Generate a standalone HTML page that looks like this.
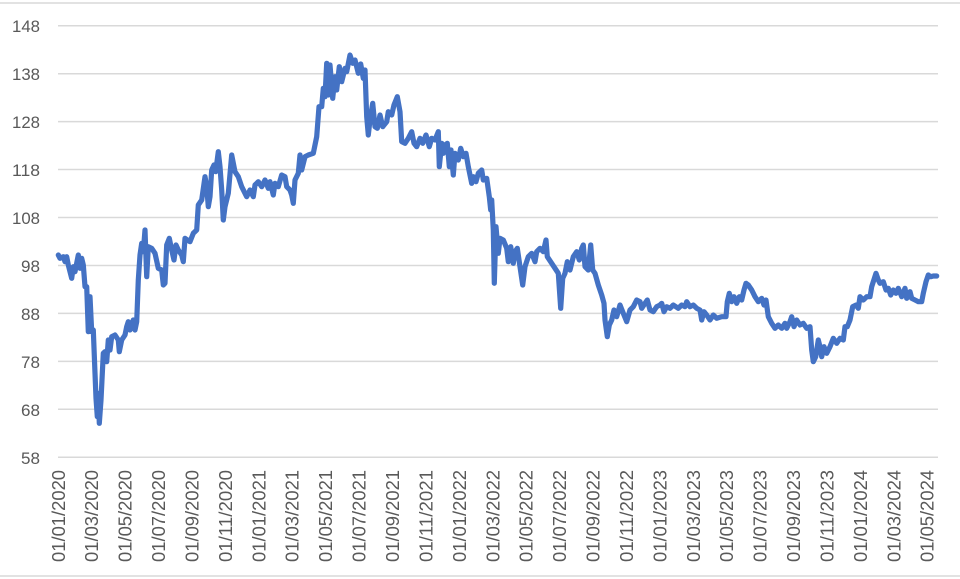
<!DOCTYPE html>
<html>
<head>
<meta charset="utf-8">
<style>
  html, body { margin: 0; padding: 0; background: #ffffff; }
  svg { display: block; }
  text { font-family: "Liberation Sans", Arial, sans-serif; fill: #595959; }
</style>
</head>
<body>
<svg width="960" height="579" viewBox="0 0 960 579" xmlns="http://www.w3.org/2000/svg">
  <rect x="0" y="0" width="960" height="579" fill="#ffffff"/>
  <line x1="0" y1="3" x2="960" y2="3" stroke="#d9d9d9" stroke-width="1.5"/>
  <line x1="0" y1="576" x2="960" y2="576" stroke="#d9d9d9" stroke-width="1.5"/>

  <g stroke="#d9d9d9" stroke-width="1.5">
    <line x1="58" y1="25.7" x2="938" y2="25.7"/>
    <line x1="58" y1="73.7" x2="938" y2="73.7"/>
    <line x1="58" y1="121.6" x2="938" y2="121.6"/>
    <line x1="58" y1="169.5" x2="938" y2="169.5"/>
    <line x1="58" y1="217.5" x2="938" y2="217.5"/>
    <line x1="58" y1="265.5" x2="938" y2="265.5"/>
    <line x1="58" y1="313.4" x2="938" y2="313.4"/>
    <line x1="58" y1="361.4" x2="938" y2="361.4"/>
    <line x1="58" y1="409.3" x2="938" y2="409.3"/>
    <line x1="58" y1="457.3" x2="938" y2="457.3"/>
  </g>

  <g font-size="17" text-anchor="end">
    <text x="40" y="32.2" textLength="28" lengthAdjust="spacingAndGlyphs">148</text>
    <text x="40" y="80.2" textLength="28" lengthAdjust="spacingAndGlyphs">138</text>
    <text x="40" y="128.1" textLength="28" lengthAdjust="spacingAndGlyphs">128</text>
    <text x="40" y="176.0" textLength="28" lengthAdjust="spacingAndGlyphs">118</text>
    <text x="40" y="224.0" textLength="28" lengthAdjust="spacingAndGlyphs">108</text>
    <text x="40" y="272.0" textLength="19" lengthAdjust="spacingAndGlyphs">98</text>
    <text x="40" y="319.9" textLength="19" lengthAdjust="spacingAndGlyphs">88</text>
    <text x="40" y="367.9" textLength="19" lengthAdjust="spacingAndGlyphs">78</text>
    <text x="40" y="415.8" textLength="19" lengthAdjust="spacingAndGlyphs">68</text>
    <text x="40" y="463.8" textLength="19" lengthAdjust="spacingAndGlyphs">58</text>
  </g>

  <g font-size="18" text-anchor="end">
    <text transform="translate(64.8,470) rotate(-90)" textLength="92" lengthAdjust="spacingAndGlyphs">01/01/2020</text>
    <text transform="translate(98.2,470) rotate(-90)" textLength="92" lengthAdjust="spacingAndGlyphs">01/03/2020</text>
    <text transform="translate(131.6,470) rotate(-90)" textLength="92" lengthAdjust="spacingAndGlyphs">01/05/2020</text>
    <text transform="translate(165.1,470) rotate(-90)" textLength="92" lengthAdjust="spacingAndGlyphs">01/07/2020</text>
    <text transform="translate(198.5,470) rotate(-90)" textLength="92" lengthAdjust="spacingAndGlyphs">01/09/2020</text>
    <text transform="translate(231.9,470) rotate(-90)" textLength="92" lengthAdjust="spacingAndGlyphs">01/11/2020</text>
    <text transform="translate(265.3,470) rotate(-90)" textLength="92" lengthAdjust="spacingAndGlyphs">01/01/2021</text>
    <text transform="translate(298.7,470) rotate(-90)" textLength="92" lengthAdjust="spacingAndGlyphs">01/03/2021</text>
    <text transform="translate(332.2,470) rotate(-90)" textLength="92" lengthAdjust="spacingAndGlyphs">01/05/2021</text>
    <text transform="translate(365.6,470) rotate(-90)" textLength="92" lengthAdjust="spacingAndGlyphs">01/07/2021</text>
    <text transform="translate(399.0,470) rotate(-90)" textLength="92" lengthAdjust="spacingAndGlyphs">01/09/2021</text>
    <text transform="translate(432.4,470) rotate(-90)" textLength="92" lengthAdjust="spacingAndGlyphs">01/11/2021</text>
    <text transform="translate(465.8,470) rotate(-90)" textLength="92" lengthAdjust="spacingAndGlyphs">01/01/2022</text>
    <text transform="translate(499.3,470) rotate(-90)" textLength="92" lengthAdjust="spacingAndGlyphs">01/03/2022</text>
    <text transform="translate(532.7,470) rotate(-90)" textLength="92" lengthAdjust="spacingAndGlyphs">01/05/2022</text>
    <text transform="translate(566.1,470) rotate(-90)" textLength="92" lengthAdjust="spacingAndGlyphs">01/07/2022</text>
    <text transform="translate(599.5,470) rotate(-90)" textLength="92" lengthAdjust="spacingAndGlyphs">01/09/2022</text>
    <text transform="translate(632.9,470) rotate(-90)" textLength="92" lengthAdjust="spacingAndGlyphs">01/11/2022</text>
    <text transform="translate(666.4,470) rotate(-90)" textLength="92" lengthAdjust="spacingAndGlyphs">01/01/2023</text>
    <text transform="translate(699.8,470) rotate(-90)" textLength="92" lengthAdjust="spacingAndGlyphs">01/03/2023</text>
    <text transform="translate(733.2,470) rotate(-90)" textLength="92" lengthAdjust="spacingAndGlyphs">01/05/2023</text>
    <text transform="translate(766.6,470) rotate(-90)" textLength="92" lengthAdjust="spacingAndGlyphs">01/07/2023</text>
    <text transform="translate(800.0,470) rotate(-90)" textLength="92" lengthAdjust="spacingAndGlyphs">01/09/2023</text>
    <text transform="translate(833.5,470) rotate(-90)" textLength="92" lengthAdjust="spacingAndGlyphs">01/11/2023</text>
    <text transform="translate(866.9,470) rotate(-90)" textLength="92" lengthAdjust="spacingAndGlyphs">01/01/2024</text>
    <text transform="translate(900.3,470) rotate(-90)" textLength="92" lengthAdjust="spacingAndGlyphs">01/03/2024</text>
    <text transform="translate(933.7,470) rotate(-90)" textLength="92" lengthAdjust="spacingAndGlyphs">01/05/2024</text>
  </g>

  <polyline fill="none" stroke="#4472C4" stroke-width="5.2" stroke-linejoin="round" stroke-linecap="round" points="
58.3,255 60,258.3 63.3,256.7 65,261.7 66.7,256.7 68.3,265 71.7,278.3 73.3,266.7 75,271.7 78.3,255 80,268.3 81.7,258.3 83.3,265 85,286.7 86.7,286.7 88.3,331.7 90,296.7 91.7,331.7 93.3,330 95,373.3 96,398.3 97.3,416.7 98.3,393.3 99.3,423.3 101,400 103.3,353.3 105,351.7 106.7,361.7 108.3,340 110,350 111.7,336.7 115,335 118.3,340 119.3,351.7 121.7,340 125,335 126.7,326.7 128.3,321.7 130,330 133.3,320 135,330 136.7,321.7 138.3,280 140,255 141.7,243.3 143.3,251.7 145,230 146.7,276.7 148.3,246.7 151.7,248.3 155,253.3 158.3,268.3 161.7,270 163.3,285 165,283.3 166.7,245 169.3,238.3 171.7,250 174,260 176,245 178.3,250 181.7,255 183.3,261.7 185,238.3 187.3,240 190,241.7 193.3,233.3 196.7,230 198.3,205 201.7,200 205,176.7 206.7,186.7 208.3,206.7 210,196.7 211.7,170 214,165 215.7,171.7 218.3,151.7 220,166.7 221.7,190 223.3,220 225,206.7 228.3,193.3 231.7,155 235,171.7 238.3,176.7 241.7,186.7 246.7,196.7 250,190
253.3,196.7 255,185 258.3,181.7 261.7,186.7 265,180 268.3,188.3 270,181.7 273.3,195 275,183.3 278.3,186.7 281.7,175 285,176.7 286.7,186.7 290,190 291.7,195 293.3,203.3 295,180 298.3,173.3 300,155 301.7,170 305,156.7 308.3,155 313.3,153.3 316.7,136.7 319,106.7 321.7,106.7 323.3,88.3 325,96.7 326.7,63.3 328.3,95 330,65 332.7,98.3 335,76.7 336.7,90 339.3,66.7 341.7,81.7 345,68.3 346.7,71.7 350,55 352.7,63.3 355,60 358.3,73.3 360.7,64 363.3,78.3 365,70 366.7,116.7 368.3,135 370,120 372.7,103.3 375,126.7 377.3,128.3 380,115 382.7,126.7 386.7,121.7 388.3,111.7 391.7,115 394,105 397.3,96.7 400,111.7 401.7,141.7 405,143.3 408.3,138.3 411.7,131.7 414,143.3 416.7,146.7 420,138.3 422.7,143.3 426,135 429.3,146.7 431.7,138.3 435,140 438.3,131.7 439.3,166.7
441.7,143.3 443.3,153.3 445,145 447.3,143.3 449.3,166.7 451,150 453.3,175 455,153.3 458.3,160 460.7,148.3 463.3,156.7 466,153.3 468.3,166.7 471.7,183.3 473.3,176.7 476,181.7 478.3,173.3 481.7,170 483.3,180 486.7,178.3 489.3,196.7 490.7,210 491.7,200 493.3,230 494.3,283.3 496,226.7 498.3,253.3 500,238.3 503.3,240 506.7,248.3 508.3,261.7 510.7,246.7 513.3,263.3 515,251.7 517.3,248.3 520,266.7 522.7,285 525,266.7 528.3,256.7 531.7,253.3 535,261.7 536.7,251.7 540,248.3 543.3,251.7 546,240 547.3,256.7 551.7,263.3 555,268.3 558.3,273.3 560.7,308.3 562.7,278.3 565,273.3 567.3,261.7 570,270 573.3,256.7 576.7,251.7 579.3,260 581.7,248.3 583.3,245 585,266.7 588.3,270 590.7,245 592.7,270 595,273.3 598.3,285 601.7,295 604,303.3 605,320 607.3,336.7 609.3,325 611.7,320 614,310 616.7,316.7 620,305 623.3,313.3 626.7,321.7 630,310 633.3,306.7 636.7,300
640,301.7 641.7,308.3 645,303.3 647.3,300 650,310 653.3,311.7 656.7,306.7 660,305 661.7,303.3 664,311.7 666.7,306.7 670,308.3 673.3,305 678.3,308.3 681.7,305 685,306.7 686.7,301.7 690,306.7 693.3,305 696.7,308.3 700,310 701.7,320 704,311.7 706.7,315 710,320 713.3,315 716.7,318.3 721.7,316.7 726,316.7 727.3,301.7 729.3,293.3 731.7,301.7 734,296.7 736.7,303.3 739.3,296.7 741.7,300 744,290 746,283.3 748.3,285 751.7,290 755,296.7 758.3,301.7 761.7,298.3 764,305 766,300 768.3,316.7 771.7,323.3 775,328.3 778.3,325 781.7,328.3 785,323.3 786.7,328.3 790,321.7 791.7,316.7 794,326.7 796.7,320 800,325 803.3,323.3 806.7,328.3 810,326.7 811.7,350 813.3,361.7 815.7,356.7 818.3,340 820,346.7 821.7,356.7 824,346.7 826.7,353.3 830,346.7 833.3,338.3 836.7,343.3 840,338.3 843.3,340 845,326.7 847.3,326.7 850,320 852.7,306.7 856,305 858.3,308.3 860,296.7 863.3,300 866.7,296.7 870,296.7 871.7,286.7 873.3,281.7 876,273.3 878.3,280 880,283.3 883.3,281.7 886,290 888.3,288.3 890.7,295 893.3,290 896,293.3 898.3,288.3 901.7,296.7 905,288.3 906.7,298.3 910,291.7 911.7,298.3 915,300 918.3,301.7 921.7,301.7 923.3,293.3 926,281.7 928.3,275 930.7,276.7 933.3,276 936.7,276"/>
</svg>
</body>
</html>
